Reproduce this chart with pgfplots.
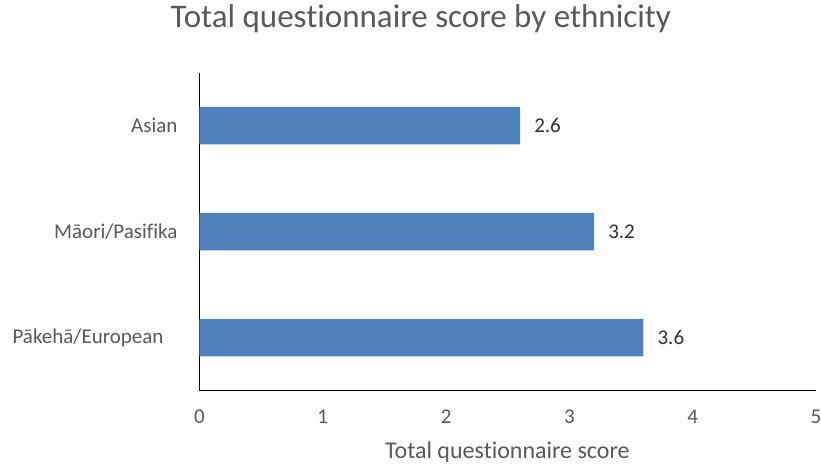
\documentclass[border=0pt]{standalone}
\usepackage{pgfplots}
\pgfplotsset{compat=1.18}
\usepackage{fontspec}
\setmainfont{Carlito}[Ligatures={NoCommon,NoDiscretionary,NoRare}]
\definecolor{barblue}{HTML}{4F81BD}
\definecolor{txtgray}{HTML}{595959}
\begin{document}
\begin{tikzpicture}
\path[use as bounding box] (-199.5bp,-77.3bp) rectangle (621.5bp,390.7bp);
\begin{axis}[
  at={(0,0)}, anchor=south west,
  scale only axis, width=616.5bp, height=318bp,
  xbar, bar width=37.5bp,
  xmin=0, xmax=5, ymin=-0.5, ymax=2.5,
  xtick={0,1,2,3,4,5}, ytick={0,1,2},
  yticklabels={Pākehā/European\kern14bp, Māori/Pasifika, Asian},
  axis x line*=bottom, axis y line*=left,
  axis line style={-, black, line width=1.2bp},
  major tick length=0,
  /pgf/number format/assume math mode=true,
  tick label style={font=\fontsize{21bp}{25bp}\selectfont, text=txtgray},
  xticklabel style={anchor=center, yshift=-26.3bp},
  yticklabel style={anchor=east, xshift=-18.5bp},
  title={Total questionnaire score by ethnicity},
  title style={at={(axis description cs:0.359,1)}, anchor=center, yshift=47.7bp,
    font=\fontsize{33bp}{39bp}\selectfont, text=txtgray},
  xlabel={Total questionnaire score},
  xlabel style={at={(axis description cs:0.4994,0)}, anchor=center, yshift=-61.3bp,
    font=\fontsize{24bp}{29bp}\selectfont, text=txtgray},
  nodes near coords,
  nodes near coords style={anchor=west, inner sep=0pt, xshift=14bp,
    font=\fontsize{21bp}{25bp}\selectfont, text=black!80,
    /pgf/number format/.cd, fixed, precision=1, fixed zerofill},
]
\addplot[fill=barblue, draw=none] coordinates {(3.6,0) (3.2,1) (2.6,2)};
\end{axis}
\end{tikzpicture}
\end{document}
